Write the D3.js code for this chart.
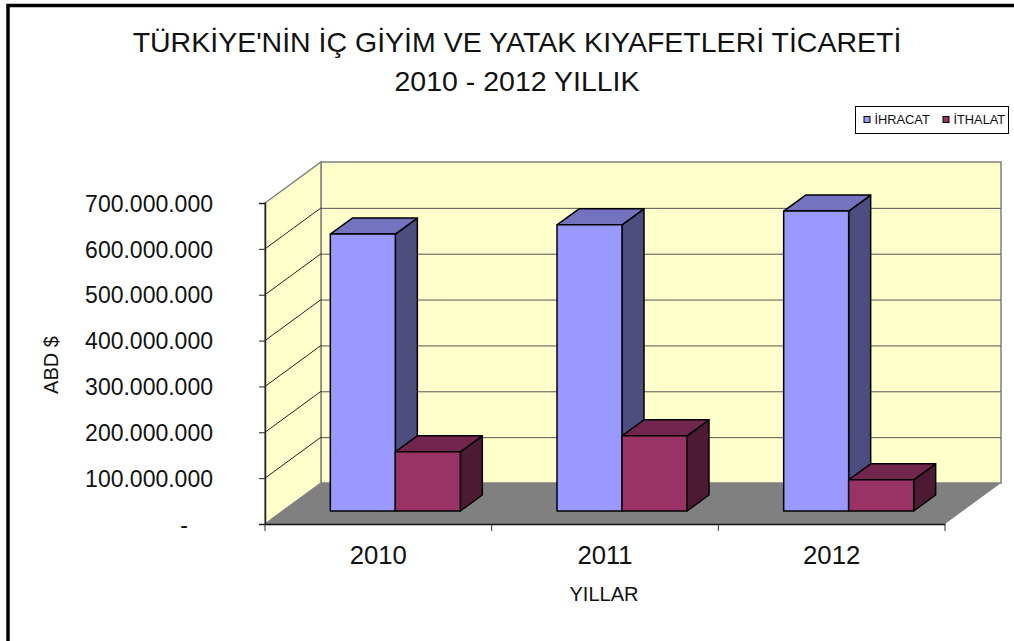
<!DOCTYPE html>
<html>
<head>
<meta charset="utf-8">
<script src="https://cdn.jsdelivr.net/npm/d3@7"></script>
<style>
body { margin: 0; background: #fff; }
text { font-family: "Liberation Sans", Arial, sans-serif; fill: #111; }
</style>
</head>
<body>
<div id="chart"></div>
<script>
const width = 1014;
const height = 641;

const years = ['2010', '2011', '2012'];
const seriesNames = ['İHRACAT', 'İTHALAT'];
const ihracat = [604000000, 624000000, 654000000];
const ithalat = [129000000, 164000000, 68000000];
const yTicks = [0, 100000000, 200000000, 300000000, 400000000, 500000000, 600000000, 700000000];
const titleLines = ["TÜRKİYE'NİN İÇ GİYİM VE YATAK KIYAFETLERİ TİCARETİ", '2010 - 2012 YILLIK'];

// front colour, top, side
const colors = [['#9999ff', '#7373bf', '#4d4d80'], ['#993366', '#73264d', '#4d1a33']];

// 3d offsets: whole floor depth, bar inset on the floor, bar depth
const depth = { x: 56, y: -41 };
const inset = { x: 17, y: -13 };
const barDepth = { x: 22, y: -16 };

const plot = { left: 265, right: 945, top: 203, bottom: 524 };

const scaleY = d3.scaleLinear().domain([0, 700000000]).range([plot.bottom, plot.top]);
const scaleX = d3.scaleBand().domain(years).range([plot.left, plot.right]);
const groupX = d3.scaleBand().domain(years).range([plot.left, plot.right])
    .paddingInner(0.4265).paddingOuter(0.21325);
const seriesX = d3.scaleBand().domain(seriesNames).range([0, groupX.bandwidth()]);

const locale = d3.formatLocale({ decimal: ',', thousands: '.', grouping: [3], currency: ['', ''] });
const formatTick = d => d === 0 ? '-' : locale.format(',')(d);

const svg = d3.select('#chart').append('svg')
    .attr('width', width)
    .attr('height', height)
    .style('display', 'block');

// outer frame, only top and left show
svg.append('path')
    .attr('d', `M${width},5.5H8V${height}`)
    .attr('fill', 'none')
    .attr('stroke', '#000')
    .attr('stroke-width', 3.5);

const title = svg.append('text')
    .attr('text-anchor', 'middle')
    .style('font-size', '28.5px');
title.selectAll('tspan')
    .data(titleLines)
    .enter()
    .append('tspan')
    .attr('x', 517)
    .attr('y', (d, i) => 52 + i * 39)
    .text(d => d);

// walls and floor
const poly = pts => 'M' + pts.map(p => p.join(',')).join('L') + 'Z';

svg.append('path')
    .attr('d', poly([[plot.left + depth.x, plot.top + depth.y], [plot.right + depth.x, plot.top + depth.y],
        [plot.right + depth.x, plot.bottom + depth.y], [plot.left + depth.x, plot.bottom + depth.y]]))
    .attr('fill', '#ffffcc')
    .attr('stroke', '#808080')
    .attr('stroke-width', 1.5);

svg.append('path')
    .attr('d', poly([[plot.left, plot.top], [plot.left + depth.x, plot.top + depth.y],
        [plot.left + depth.x, plot.bottom + depth.y], [plot.left, plot.bottom]]))
    .attr('fill', '#ffffcc')
    .attr('stroke', '#808080')
    .attr('stroke-width', 1.5);

svg.append('path')
    .attr('d', poly([[plot.left, plot.bottom], [plot.right, plot.bottom],
        [plot.right + depth.x, plot.bottom + depth.y], [plot.left + depth.x, plot.bottom + depth.y]]))
    .attr('fill', '#808080');

// gridlines
const grid = svg.append('g');
grid.selectAll('.back')
    .data(yTicks.slice(1, -1))
    .enter()
    .append('line')
    .attr('x1', plot.left + depth.x)
    .attr('x2', plot.right + depth.x)
    .attr('y1', d => scaleY(d) + depth.y + 0.5)
    .attr('y2', d => scaleY(d) + depth.y + 0.5)
    .attr('stroke', '#555');
grid.selectAll('.side')
    .data(yTicks.slice(1, -1))
    .enter()
    .append('line')
    .attr('x1', plot.left)
    .attr('x2', plot.left + depth.x)
    .attr('y1', d => scaleY(d))
    .attr('y2', d => scaleY(d) + depth.y)
    .attr('stroke', '#222');

// axes
const axisY = svg.append('g')
    .attr('transform', `translate(${plot.left},0)`)
    .call(d3.axisLeft(scaleY).tickValues(yTicks).tickFormat(formatTick).tickSize(6).tickPadding(46));
axisY.selectAll('text')
    .style('font-size', '23px')
    .attr('dy', '0.36em')
    // the zero dash sits further in, like the accounting format
    .attr('dx', d => d === 0 ? -25 : 0);
axisY.selectAll('line').attr('stroke', '#222');
axisY.select('.domain').attr('stroke', '#222').attr('stroke-width', 1.5);

const axisX = svg.append('g')
    .attr('transform', `translate(0,${plot.bottom})`)
    .call(d3.axisBottom(scaleX).tickSize(0).tickPadding(22));
axisX.selectAll('text').style('font-size', '25.7px');
axisX.select('.domain').attr('stroke', '#111').attr('stroke-width', 1.5);
axisX.selectAll('.sep')
    .data(years.concat('end'))
    .enter()
    .append('line')
    .attr('x1', (d, i) => i < 3 ? scaleX(d) : plot.right)
    .attr('x2', (d, i) => i < 3 ? scaleX(d) : plot.right)
    .attr('y1', 0)
    .attr('y2', 7)
    .attr('stroke', '#333');

// bars
const bars = [];
years.forEach((year, i) => {
    bars.push({ year: year, series: 0, value: ihracat[i] });
    bars.push({ year: year, series: 1, value: ithalat[i] });
});

const bar = svg.selectAll('.bar')
    .data(bars)
    .enter()
    .append('g')
    .classed('bar', true);

const barBox = d => {
    const x0 = groupX(d.year) + seriesX(seriesNames[d.series]) + inset.x;
    const x1 = x0 + seriesX.bandwidth();
    const y0 = scaleY(0) + inset.y;
    const y1 = scaleY(d.value) + inset.y;
    return { x0, x1, y0, y1 };
};

bar.append('path')
    .attr('d', d => {
        const b = barBox(d);
        return poly([[b.x1, b.y1], [b.x1 + barDepth.x, b.y1 + barDepth.y], [b.x1 + barDepth.x, b.y0 + barDepth.y], [b.x1, b.y0]]);
    })
    .attr('fill', d => colors[d.series][2]);

bar.append('path')
    .attr('d', d => {
        const b = barBox(d);
        return poly([[b.x0, b.y1], [b.x0 + barDepth.x, b.y1 + barDepth.y], [b.x1 + barDepth.x, b.y1 + barDepth.y], [b.x1, b.y1]]);
    })
    .attr('fill', d => colors[d.series][1]);

bar.append('path')
    .attr('d', d => {
        const b = barBox(d);
        return poly([[b.x0, b.y0], [b.x0, b.y1], [b.x1, b.y1], [b.x1, b.y0]]);
    })
    .attr('fill', d => colors[d.series][0]);

bar.selectAll('path')
    .attr('stroke', '#000')
    .attr('stroke-width', 1.5)
    .attr('stroke-linejoin', 'round');

// axis titles
svg.append('text')
    .attr('x', 604)
    .attr('y', 601)
    .attr('text-anchor', 'middle')
    .style('font-size', '20px')
    .text('YILLAR');

svg.append('text')
    .attr('transform', 'translate(58,365) rotate(-90)')
    .attr('text-anchor', 'middle')
    .style('font-size', '20px')
    .text('ABD $');

// legend
const legend = svg.append('g');
legend.append('rect')
    .attr('x', 855.5)
    .attr('y', 106.5)
    .attr('width', 153)
    .attr('height', 27)
    .attr('fill', '#fff')
    .attr('stroke', '#000');

const legendX = [864, 943];
const item = legend.selectAll('.item')
    .data(seriesNames)
    .enter()
    .append('g')
    .classed('item', true)
    .attr('transform', (d, i) => `translate(${legendX[i]},0)`);

item.append('rect')
    .attr('x', 0)
    .attr('y', 116.5)
    .attr('width', 6)
    .attr('height', 6)
    .attr('fill', (d, i) => colors[i][0])
    .attr('stroke', '#000');

item.append('text')
    .attr('x', 10.5)
    .attr('y', 124)
    .style('font-size', '12.8px')
    .text(d => d);
</script>
</body>
</html>
